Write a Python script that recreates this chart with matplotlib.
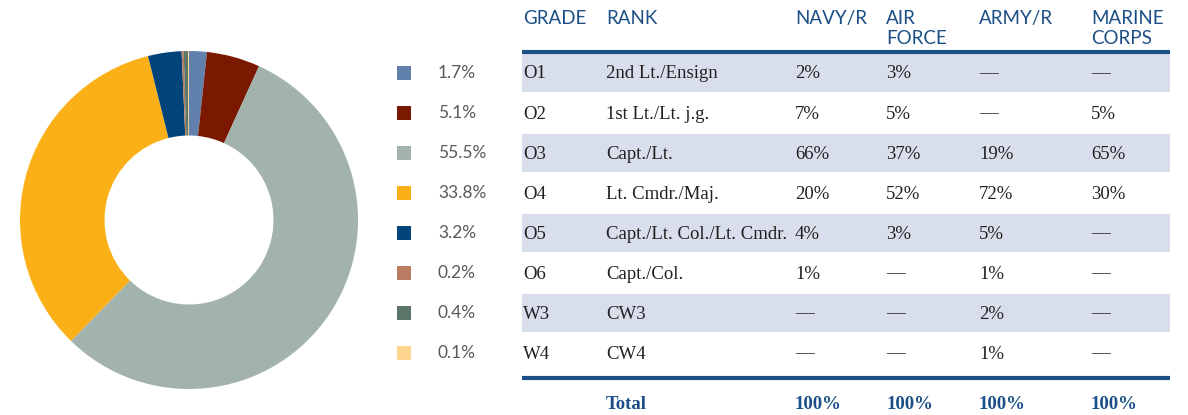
import matplotlib.pyplot as plt
from matplotlib.patches import Rectangle

# donut data (clockwise from 12 o'clock)
shares = [1.7, 5.1, 55.5, 33.8, 3.2, 0.2, 0.4, 0.1]
share_labels = ['1.7%', '5.1%', '55.5%', '33.8%', '3.2%', '0.2%', '0.4%', '0.1%']
colors = ['#6181AC', '#7A1800', '#A2B2AC', '#FBB017', '#00447A', '#B97B62', '#5B7567', '#FFD590']

# table data
headers = ['GRADE', 'RANK', 'NAVY/R', 'AIR\nFORCE', 'ARMY/R', 'MARINE\nCORPS']
grades = ['O1', 'O2', 'O3', 'O4', 'O5', 'O6', 'W3', 'W4']
ranks = ['2nd Lt./Ensign', '1st Lt./Lt. j.g.', 'Capt./Lt.', 'Lt. Cmdr./Maj.',
         'Capt./Lt. Col./Lt. Cmdr.', 'Capt./Col.', 'CW3', 'CW4']
navy = ['2%', '7%', '66%', '20%', '4%', '1%', '—', '—']
air_force = ['3%', '5%', '37%', '52%', '3%', '—', '—', '—']
army = ['—', '—', '19%', '72%', '5%', '1%', '2%', '1%']
marines = ['—', '5%', '65%', '30%', '—', '—', '—', '—']
totals = ['100%', '100%', '100%', '100%']

blue = '#1B4F86'
shade = '#D8DEEB'
text_col = '#231F20'

W, H = 1188, 415
fig = plt.figure(figsize=(W / 100, H / 100), dpi=100)

# canvas axes in pixel units for legend + table
ax = fig.add_axes([0, 0, 1, 1])
ax.set_xlim(0, W)
ax.set_ylim(H, 0)
ax.axis('off')

# donut
cx, cy, r = 189, 220, 169
pax = fig.add_axes([(cx - r) / W, (H - cy - r) / H, 2 * r / W, 2 * r / H])
pax.pie(shares, colors=colors, startangle=90, counterclock=False, radius=1,
        wedgeprops=dict(width=0.5, linewidth=0))
pax.set_xlim(-1, 1)
pax.set_ylim(-1, 1)
pax.axis('off')

# legend
row_y0, row_h = 73, 40
for i, (lab, c) in enumerate(zip(share_labels, colors)):
    y = row_y0 + i * row_h
    ax.add_patch(Rectangle((397, y - 7), 14, 14, color=c, lw=0))
    ax.text(438, y, lab, ha='left', va='center', fontsize=12.5,
            family='Lato', color='#58595B')

# table
col_x = [523, 606, 795, 886, 979, 1091]
tab_l, tab_r = 522, 1170
for i in range(len(grades)):
    y = row_y0 + i * row_h
    if i % 2 == 0:
        ax.add_patch(Rectangle((tab_l, y - 19), tab_r - tab_l, 38, color=shade, lw=0))
    row = [grades[i], ranks[i], navy[i], air_force[i], army[i], marines[i]]
    for x, s in zip(col_x, row):
        ax.text(x, y + 1, s, ha='left', va='center', fontsize=13.5,
                family='Liberation Serif', color=text_col)

for x, h in zip(col_x, headers):
    ax.text(x, 10, h, ha='left', va='top', fontsize=13.5, family='Lato',
            color=blue, linespacing=1.2)

ax.plot([tab_l, tab_r], [52.5, 52.5], color=blue, lw=3, solid_capstyle='butt')
ax.plot([tab_l, tab_r], [377.5, 377.5], color=blue, lw=3, solid_capstyle='butt')

ax.text(col_x[1], 404, 'Total', ha='left', va='center', fontsize=13.5,
        family='Liberation Serif', fontweight='bold', color=blue)
for x, s in zip(col_x[2:], totals):
    ax.text(x, 404, s, ha='left', va='center', fontsize=13.5,
            family='Liberation Serif', fontweight='bold', color=blue)

fig.savefig('out.png', dpi=100)
